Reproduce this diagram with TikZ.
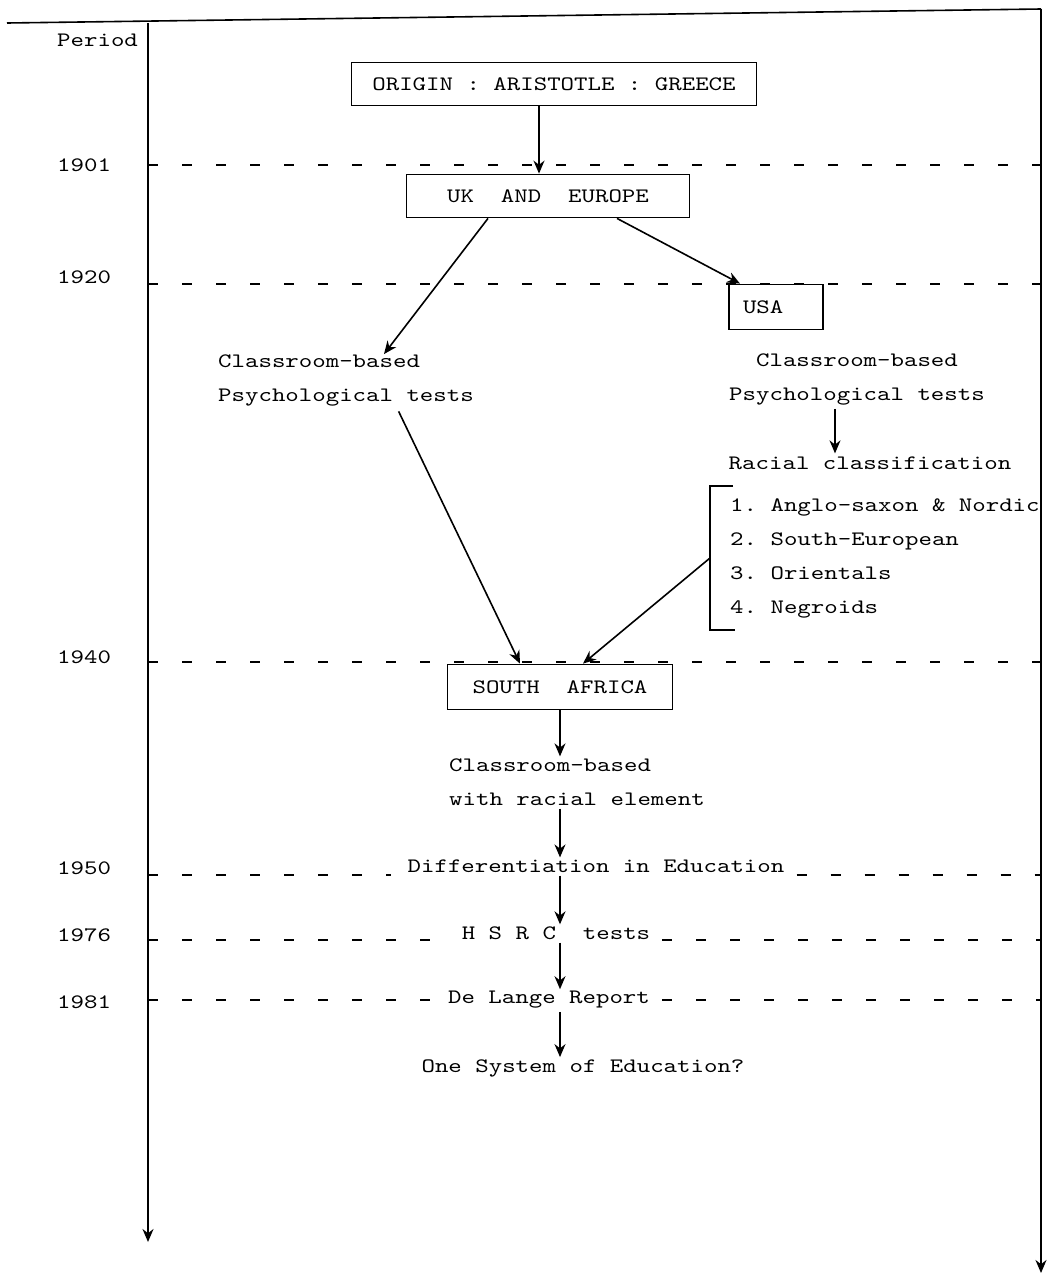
\documentclass[tikz,border=0pt]{standalone}
\usepackage{fontspec}
\setmonofont[FakeStretch=1.25]{lmmono10-regular.otf}
\usepackage{tikz}
\usetikzlibrary{positioning}
\usetikzlibrary{arrows.meta}

\begin{document}
\begin{tikzpicture}[x=1pt, y=-1pt,
    font=\ttfamily\fontsize{20.5}{34}\selectfont,
    box/.style = {draw, line width=1.8pt, minimum height=43pt},
    txt/.style = {inner sep=0pt, align=left},
    arr/.style = {line width=1.6pt, -{Stealth[length=13pt,width=11pt]}},
    period/.style = {line width=2pt, dash pattern=on 10pt off 24pt}]
  \useasboundingbox (0,0) rectangle (1056,1275);
  % frame and time axis
  \coordinate (tl) at (7,23);
  \coordinate (ax) at (148,23);
  \coordinate (axend) at (148,1242);
  \coordinate (rx) at (1041,9);
  \coordinate (rxend) at (1041,1273);
  \draw[line width=1.6pt] (tl) -- (rx);
  \draw[arr] (ax) -- (axend);
  \draw[arr, line width=2pt] (rx) -- (rxend);
  \node[txt, anchor=west](period) at (57,40){Period};
  \foreach \yr/\ty/\ly in {1901/165/165, 1920/277/284, 1940/657/662}{
    \node[txt, anchor=west](y\yr) at (57,\ty){\yr};
    \coordinate (l\yr) at (148,\ly);
    \draw[period] (l\yr) -- (l\yr -| rx);
  }
  % boxes
  \node[box, minimum width=405pt](origin) at (554,84){ORIGIN : ARISTOTLE : GREECE};
  \node[box, minimum width=283pt](uk) at (548,196){UK~~AND~~EUROPE};
  \node[box, minimum height=45pt, text width=66pt, inner xsep=14pt, align=left](usa) at (776,307){USA};
  \node[box, minimum width=225pt, minimum height=45pt](sa) at (560,687){SOUTH~~AFRICA};
  % texts
  \node[txt](lpsy) at (346,380){Classroom-based\\Psychological tests};
  \node[txt, align=center](rpsy) at (857,379){Classroom-based\\Psychological tests};
  \node[txt](racial) at (870,463){Racial classification};
  \node[txt, anchor=west, inner xsep=20pt, minimum height=144pt](list) at (710,558){1. Anglo-saxon \& Nordic\\2. South-European\\3. Orientals\\4. Negroids};
  \node[txt](sacls) at (577,782){Classroom-based\\with racial element};
  \node[txt](diff) at (596,866){Differentiation in Education};
  \node[txt](hsrc) at (556,933){H S R C~~tests};
  \node[txt](delange) at (549,1000){De Lange Report};
  \node[txt](onesys) at (583,1068){One System of Education?};
  \foreach \yr/\ty/\ly/\lbl in {1950/868/875/diff, 1976/935/940/hsrc, 1981/1002/1000/delange}{
    \node[txt, anchor=west](y\yr) at (57,\ty){\yr};
    \coordinate (l\yr) at (148,\ly);
    \draw[period, shorten >=16pt] (l\yr) -- (\lbl.west |- l\yr);
    \draw[period, shorten <=12pt] (\lbl.east |- l\yr) -- (l\yr -| rx);
  }
  \draw[line width=1.6pt] ([xshift=23pt]list.north west) -- (list.north west) -- (list.south west) -- ([xshift=25pt]list.south west);
  % arrows
  \coordinate (o1) at ([xshift=-9pt]uk.north);
  \draw[arr] (origin.south -| o1) -- (o1);
  \draw[arr] ([xshift=-60pt]uk.south) -- ([xshift=38pt]lpsy.north);
  \draw[arr] ([xshift=69pt]uk.south) -- ([xshift=-36pt]usa.north);
  \draw[arr, shorten <=6pt] ([xshift=50pt]lpsy.south) -- ([xshift=-40pt]sa.north);
  \draw[arr] (list.west) -- ([xshift=23pt]sa.north);
  \draw[arr, shorten <=4pt, shorten >=3pt] ([xshift=-22pt]rpsy.south) -- ([xshift=-35pt]racial.north);
  \draw[arr, shorten >=2pt] (sa.south) -- (sa.south |- sacls.north);
  \foreach \a/\b in {sacls/diff, diff/hsrc, hsrc/delange, delange/onesys}
    \draw[arr, shorten <=3pt, shorten >=2pt] (sa.south |- \a.south) -- (sa.south |- \b.north);
\end{tikzpicture}
\end{document}
